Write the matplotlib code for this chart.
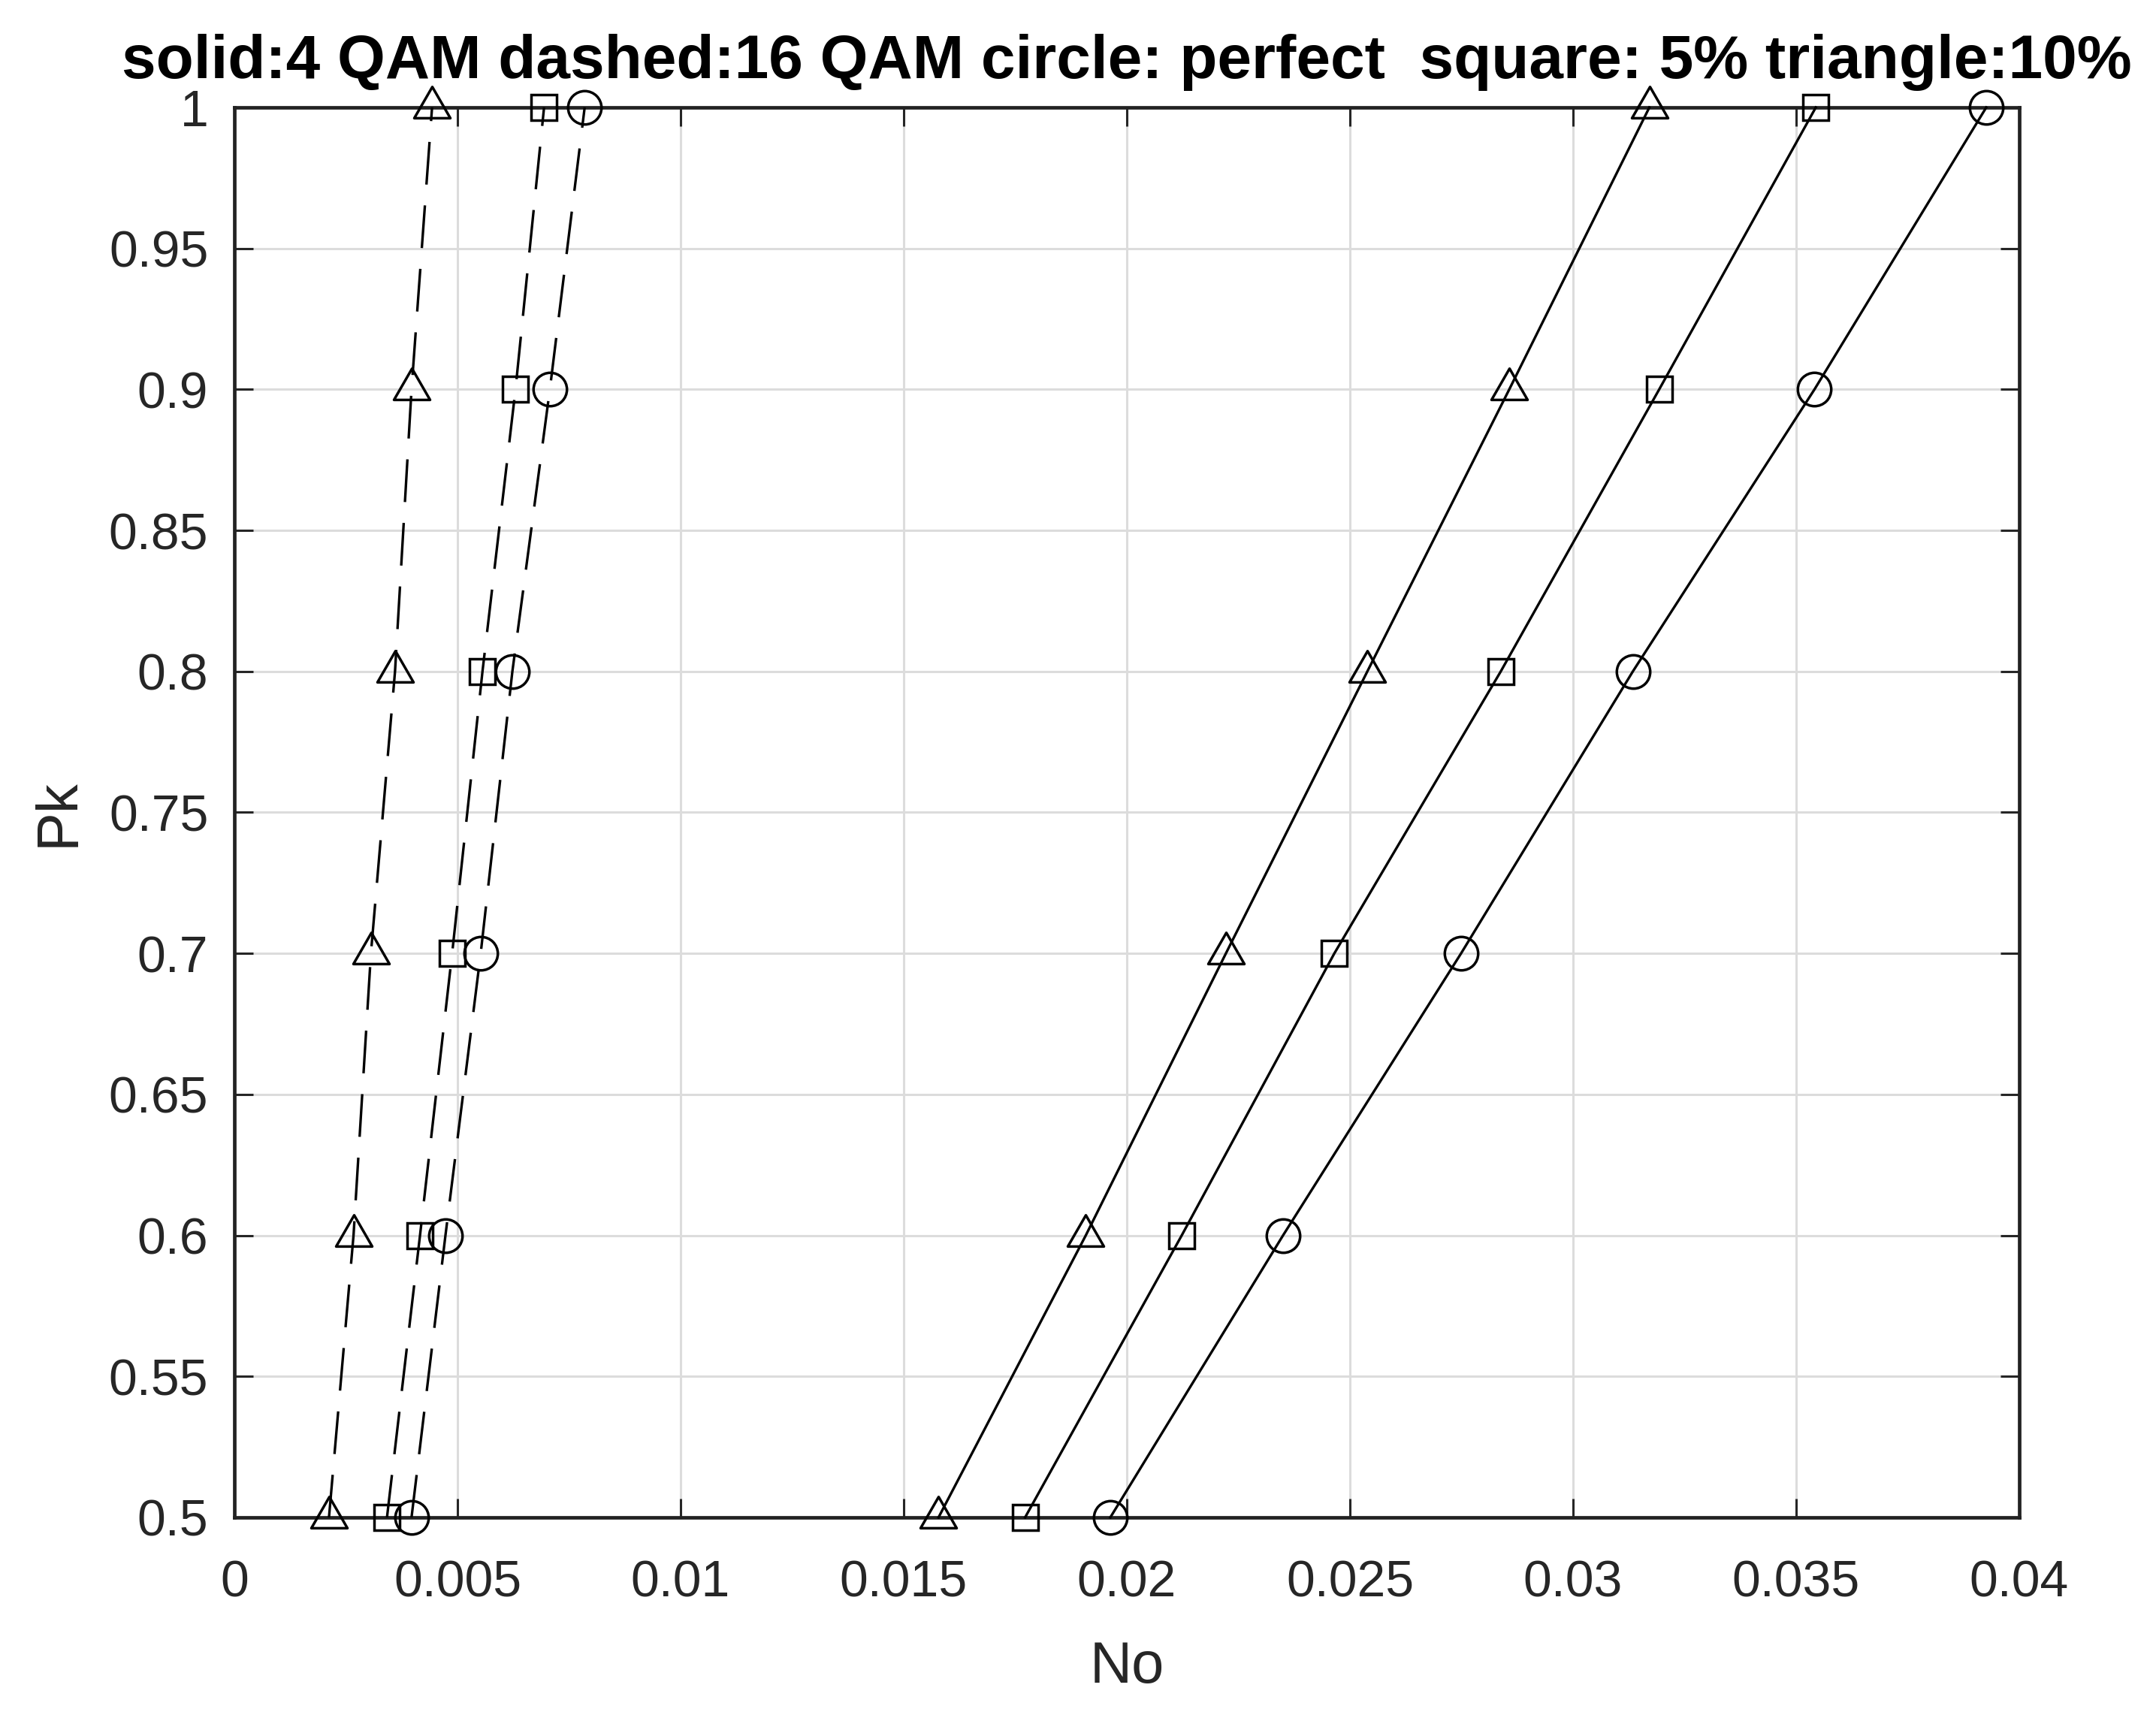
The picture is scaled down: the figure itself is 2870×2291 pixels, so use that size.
import numpy as np
import matplotlib
matplotlib.use("Agg")
import matplotlib.pyplot as plt
from matplotlib.path import Path

# probability Pk (y axis)
pk = [0.5, 0.6, 0.7, 0.8, 0.9, 1.0]

# solid lines: 4 QAM
qam4_perfect = [0.01963, 0.02350, 0.02749, 0.03134, 0.03541, 0.03926]
qam4_5pct = [0.01772, 0.02123, 0.02465, 0.02838, 0.03193, 0.03544]
qam4_10pct = [0.01578, 0.01908, 0.02222, 0.02539, 0.02857, 0.03171]

# dashed lines: 16 QAM
qam16_perfect = [0.00397, 0.00473, 0.00552, 0.00623, 0.00707, 0.00785]
qam16_5pct = [0.00342, 0.00416, 0.00488, 0.00556, 0.00630, 0.00694]
qam16_10pct = [0.00212, 0.00267, 0.00306, 0.00360, 0.00397, 0.00443]

plt.rcParams['font.family'] = ['Liberation Sans', 'DejaVu Sans']
plt.rcParams['lines.scale_dashes'] = False

# matlab style triangle, centred on its centroid
tri = Path([(0, 2/3), (-0.577, -1/3), (0.577, -1/3), (0, 2/3)],
           [Path.MOVETO, Path.LINETO, Path.LINETO, Path.CLOSEPOLY])

fig = plt.figure(figsize=(28.7, 22.91), dpi=100)
ax = fig.add_axes([312/2870, 1 - 2020/2291, (2688-312)/2870, (2020-143)/2291])

lw = 2.4
mew = 2.5
dash = (0, (41, 20))

styles = [
    (qam4_perfect, '-', 'o', 32),
    (qam4_5pct, '-', 's', 25),
    (qam4_10pct, '-', tri, 40),
    (qam16_perfect, dash, 'o', 32),
    (qam16_5pct, dash, 's', 25),
    (qam16_10pct, dash, tri, 40),
]
for xs, ls, mk, ms in styles:
    ax.plot(xs, pk, color='black', linestyle=ls, linewidth=lw,
            marker=mk, markersize=ms, markerfacecolor='none',
            markeredgecolor='black', markeredgewidth=mew, clip_on=False,
            zorder=3)

ax.set_xlim(0, 0.04)
ax.set_ylim(0.5, 1.0)
ax.set_xticks(np.arange(0, 0.0401, 0.005))
ax.set_xticklabels(['0', '0.005', '0.01', '0.015', '0.02', '0.025', '0.03', '0.035', '0.04'])
ax.set_yticks(np.arange(0.5, 1.001, 0.05))
ax.set_yticklabels(['0.5', '0.55', '0.6', '0.65', '0.7', '0.75', '0.8', '0.85', '0.9', '0.95', '1'])

ax.grid(True, color='#dcdcdc', linewidth=2.2)
ax.set_axisbelow(True)
for sp in ax.spines.values():
    sp.set_linewidth(3.4)
    sp.set_color('#222222')

ax.tick_params(axis='both', direction='in', top=True, right=True,
               length=18, width=2.2, labelsize=49, colors='#262626')
ax.tick_params(axis='x', pad=40)
ax.tick_params(axis='y', pad=25)

ax.set_xlabel('No', fontsize=56, labelpad=31, color='#262626')
ax.set_ylabel('Pk', fontsize=56, labelpad=22, color='#262626')
ax.set_title('solid:4 QAM dashed:16 QAM circle: perfect  square: 5% triangle:10%',
             fontsize=59, fontweight='bold', pad=28)

fig.savefig('out.png', dpi=100, facecolor='white')
